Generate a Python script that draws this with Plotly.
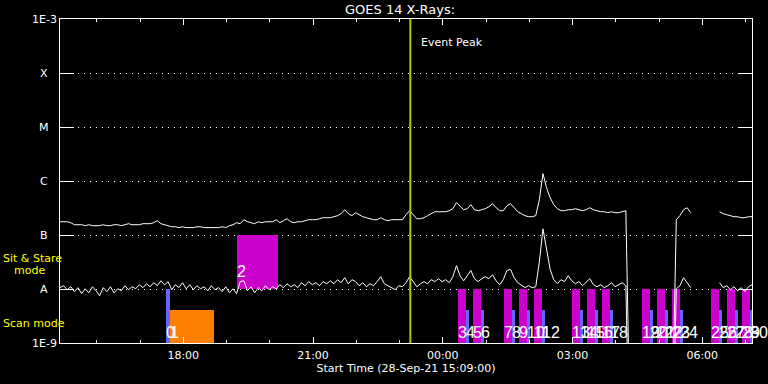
import numpy as np
import pandas as pd
import plotly.graph_objects as go

# ---------------- data ----------------
START = "2021-09-28 15:09"
END = "2021-09-29 07:09"
STEP_MIN = 5

# GOES 14 long channel (1-8 A), units of 1e-7 W/m^2 ; None = no data, 0.001 = dropout
long_b = [
    1.76, 1.76, 1.76, 1.69, 1.55, 1.55, 1.55, 1.49, 1.55, 1.49,
    1.49, 1.49, 1.55, 1.49, 1.49, 1.55, 1.55, 1.49, 1.55, 1.62,
    1.55, 1.55, 1.55, 1.62, 1.62, 1.62, 1.69, 1.84, 1.62, 1.55,
    1.49, 1.42, 1.42, 1.37, 1.42, 1.37, 1.37, 1.37, 1.42, 1.42,
    1.37, 1.37, 1.37, 1.37, 1.37, 1.42, 1.37, 1.49, 1.55, 1.69,
    1.62, 1.92, 1.76, 1.69, 1.62, 1.76, 1.69, 1.76, 1.76, 1.76,
    1.92, 1.69, 1.84, 2.00, 1.76, 1.69, 1.76, 1.76, 1.84, 1.92,
    1.92, 1.92, 2.00, 2.09, 2.09, 2.09, 2.18, 2.28, 2.48, 2.94,
    2.48, 2.28, 2.59, 2.38, 2.18, 2.09, 2.00, 1.92, 1.92, 2.09,
    1.92, 1.84, 1.92, 1.92, 1.92, 1.92, 2.38, 2.82, 2.38, 2.00,
    2.00, 2.09, 2.28, 2.48, 2.70, 2.70, 2.70, 2.70, 2.82, 3.07,
    3.97, 3.34, 2.94, 3.07, 3.64, 2.94, 2.82, 2.94, 3.07, 3.34,
    3.80, 3.20, 2.82, 2.82, 3.49, 3.80, 3.20, 2.70, 2.48, 2.28,
    2.18, 2.18, 2.28, 4.50, 13.7, 7.50, 4.90, 3.64, 3.07, 2.82,
    2.82, 2.94, 2.94, 3.07, 2.94, 2.82, 2.94, 3.20, 2.94, 2.82,
    2.70, 2.70, 2.59, 2.70, 2.59, 2.59, 2.70, 2.82, 0.001, None,
    None, None, None, None, None, None, None, None, None, None,
    0.001, 1.92, 2.28, 2.94, 3.20, 2.59, None, None, None, None,
    None, None, None, 2.70, 2.48, 2.38, 2.28, 2.18, 2.18, 2.09,
    2.09, 2.18, 2.18,
]

# GOES 14 short channel (0.5-4 A), units of 1e-8 W/m^2
short_a = [
    1.06, 1.15, 0.97, 1.10, 0.89, 1.06, 0.82, 1.01, 0.85, 1.10,
    0.93, 0.75, 1.06, 0.89, 1.10, 0.85, 1.01, 0.93, 1.15, 0.97,
    1.10, 1.01, 1.20, 1.06, 1.25, 1.10, 1.31, 1.15, 1.42, 1.20,
    1.37, 0.97, 1.20, 1.06, 1.31, 1.01, 1.20, 0.97, 1.15, 1.01,
    1.10, 0.93, 1.15, 0.97, 1.06, 0.89, 1.10, 0.85, 1.01, 0.82,
    1.37, 1.42, 0.93, 1.10, 0.85, 1.06, 0.93, 1.15, 0.97, 1.10,
    1.01, 1.20, 1.06, 1.25, 1.10, 1.20, 1.06, 1.31, 1.15, 1.37,
    1.20, 1.31, 1.15, 1.37, 1.25, 1.42, 1.25, 1.49, 1.31, 1.62,
    1.25, 1.49, 1.37, 1.15, 1.31, 1.10, 1.25, 1.15, 1.37, 1.69,
    1.25, 1.15, 1.06, 0.97, 1.15, 1.10, 1.31, 1.69, 1.37, 1.10,
    1.25, 1.37, 1.25, 1.49, 1.37, 1.55, 1.37, 1.49, 1.31, 1.69,
    2.70, 1.76, 1.42, 1.76, 2.20, 1.55, 1.37, 1.55, 1.69, 1.55,
    1.84, 1.42, 1.20, 1.49, 2.20, 2.30, 1.62, 1.31, 1.20, 1.06,
    1.15, 1.06, 1.10, 3.20, 13.0, 5.80, 2.30, 1.49, 1.25, 1.49,
    1.37, 1.76, 1.42, 1.25, 1.37, 1.15, 1.31, 1.55, 1.20, 1.10,
    1.20, 1.06, 1.15, 1.31, 1.10, 1.20, 1.31, 1.15, 0.001, None,
    None, None, None, None, None, None, None, None, None, None,
    0.001, 1.01, 1.15, 1.62, 1.31, 1.06, None, None, None, None,
    None, None, None, 1.31, 1.06, 1.15, 0.97, 1.10, 0.93, 1.06,
    0.89, 1.10, 1.20,
]

# observation events: start, duration (min), kind, lower / upper flux of the bar
ev_start = [
    "2021-09-28 17:36", "2021-09-28 17:42", "2021-09-28 19:14",
    "2021-09-29 00:21", "2021-09-29 00:32", "2021-09-29 00:42", "2021-09-29 00:53",
    "2021-09-29 01:25", "2021-09-29 01:36", "2021-09-29 01:46", "2021-09-29 01:57",
    "2021-09-29 02:07", "2021-09-29 02:18", "2021-09-29 02:59", "2021-09-29 03:10",
    "2021-09-29 03:20", "2021-09-29 03:31", "2021-09-29 03:41", "2021-09-29 03:52",
    "2021-09-29 04:37", "2021-09-29 04:48", "2021-09-29 04:57", "2021-09-29 05:08",
    "2021-09-29 05:18", "2021-09-29 05:29", "2021-09-29 06:12", "2021-09-29 06:23",
    "2021-09-29 06:35", "2021-09-29 06:46", "2021-09-29 06:55", "2021-09-29 07:06",
]
ev_dur = [6, 61, 57] + [11, 4] * 14
ev_kind = ["blue", "orange", "magenta"] + ["magenta", "blue"] * 14
ev_mode = ["scan", "scan", "stare"] + ["scan", "scan"] * 14
ev_low = [1e-9, 1e-9, 1e-8] + [1e-9, 1e-9] * 14
ev_high = [1e-8, 4e-9, 1e-7] + [1e-8, 4e-9] * 14

event_peak = "2021-09-28 23:15"

y_levels = [1e-9, 1e-8, 1e-7, 1e-6, 1e-5, 1e-4, 1e-3]
y_names = ["1E-9", "A", "B", "C", "M", "X", "1E-3"]

# ---------------- figure ----------------
times = pd.date_range(START, END, freq=f"{STEP_MIN}min")
long_flux = [None if v is None else v * 1e-7 for v in long_b]
short_flux = [None if v is None else v * 1e-8 for v in short_a]

COLORS = {"blue": "#6464ff", "orange": "#ff8000", "magenta": "#cc00cc"}
FONT = "DejaVu Sans"
PL, PW = 60, 692   # plot area left / width in pixels


def xpaper(px):
    return (px - PL) / PW


def ylog(px):
    return (343.3 - px) / 54.0 - 9


fig = go.Figure()

for kind in ["blue", "orange", "magenta"]:
    idx = [i for i, k in enumerate(ev_kind) if k == kind]
    fig.add_trace(go.Bar(
        x=[pd.Timestamp(ev_start[i]) for i in idx],
        y=[ev_high[i] - ev_low[i] for i in idx],
        base=[ev_low[i] for i in idx],
        width=[ev_dur[i] * 60000 for i in idx],
        offset=0,
        marker=dict(color=COLORS[kind], line=dict(width=0)),
        hoverinfo="skip",
    ))

fig.add_trace(go.Scatter(x=times, y=long_flux, mode="lines",
                         line=dict(color="white", width=1), connectgaps=False))
fig.add_trace(go.Scatter(x=times, y=short_flux, mode="lines",
                         line=dict(color="white", width=1), connectgaps=False))
fig.add_trace(go.Scatter(x=[event_peak, event_peak], y=[1e-9, 1e-3], mode="lines",
                         line=dict(color="#a0d000", width=2)))

ann = []
# y-axis level labels
for v, n in zip(y_levels, y_names):
    ann.append(dict(x=xpaper(44), xref="paper", y=np.log10(v), yref="y", text=n,
                    showarrow=False, xanchor="center", yanchor="middle",
                    font=dict(family=FONT, size=11, color="white")))

# event number labels
for i, (s, m) in enumerate(zip(ev_start, ev_mode)):
    ann.append(dict(x=s, xref="x", y=ylog(332.5 if m == "scan" else 272), yref="y",
                    text=str(i), showarrow=False, xanchor="left", yanchor="middle",
                    xshift=-1, borderpad=0,
                    font=dict(family="Liberation Sans", size=16, color="white")))

# mode labels
ann.append(dict(x=xpaper(1), xref="paper", y=ylog(259), yref="y", text="Sit & Stare",
                showarrow=False, xanchor="left", yanchor="middle",
                font=dict(family=FONT, size=11, color="#ffff00")))
ann.append(dict(x=xpaper(12), xref="paper", y=ylog(271), yref="y", text="mode",
                showarrow=False, xanchor="left", yanchor="middle",
                font=dict(family=FONT, size=11, color="#ffff00")))
ann.append(dict(x=xpaper(1), xref="paper", y=ylog(324), yref="y", text="Scan mode",
                showarrow=False, xanchor="left", yanchor="middle",
                font=dict(family=FONT, size=11, color="#ffff00")))
# event peak label
ann.append(dict(x=event_peak, xref="x", xshift=9, y=ylog(43), yref="y", text="Event Peak",
                showarrow=False, xanchor="left", yanchor="middle",
                font=dict(family=FONT, size=11, color="white")))
# title
ann.append(dict(x=xpaper(457), xref="paper", y=(343 - 9.5) / 324, yref="paper",
                text="GOES 14 X-Rays:", showarrow=False, xanchor="right", yanchor="middle",
                font=dict(family=FONT, size=13, color="white")))

fig.update_layout(
    width=768, height=384,
    margin=dict(l=60, r=16, t=19, b=41),
    paper_bgcolor="black", plot_bgcolor="black",
    showlegend=False, barmode="overlay", bargap=0,
    annotations=ann,
    xaxis=dict(
        type="date", range=[START, END],
        showgrid=False, zeroline=False,
        ticks="inside", ticklen=6, tickwidth=1, tickcolor="white",
        tick0="2021-09-28 18:00", dtick=3 * 3600000, tickformat="%H:%M",
        tickfont=dict(family=FONT, size=11, color="white"),
        ticklabelstandoff=2,
        showline=True, linecolor="white", linewidth=1, mirror="ticks",
        minor=dict(ticks="inside", ticklen=3, tickwidth=1, tickcolor="white",
                   tick0="2021-09-28 18:00", dtick=3600000, showgrid=False),
        title=dict(text="Start Time (28-Sep-21 15:09:00)", standoff=3,
                   font=dict(family=FONT, size=11, color="white")),
    ),
    yaxis=dict(
        type="log", range=[-9, -3],
        tickvals=y_levels, showticklabels=False,
        ticks="inside", ticklen=14, tickwidth=1, tickcolor="white",
        showgrid=True, gridcolor="white", gridwidth=1, griddash="1px,5px",
        zeroline=False,
        showline=True, linecolor="white", linewidth=1, mirror="ticks",
    ),
)

fig.write_html("out.html", config={"displayModeBar": False},
               post_script="document.body.style.margin='0px';document.body.style.overflow='hidden';")
